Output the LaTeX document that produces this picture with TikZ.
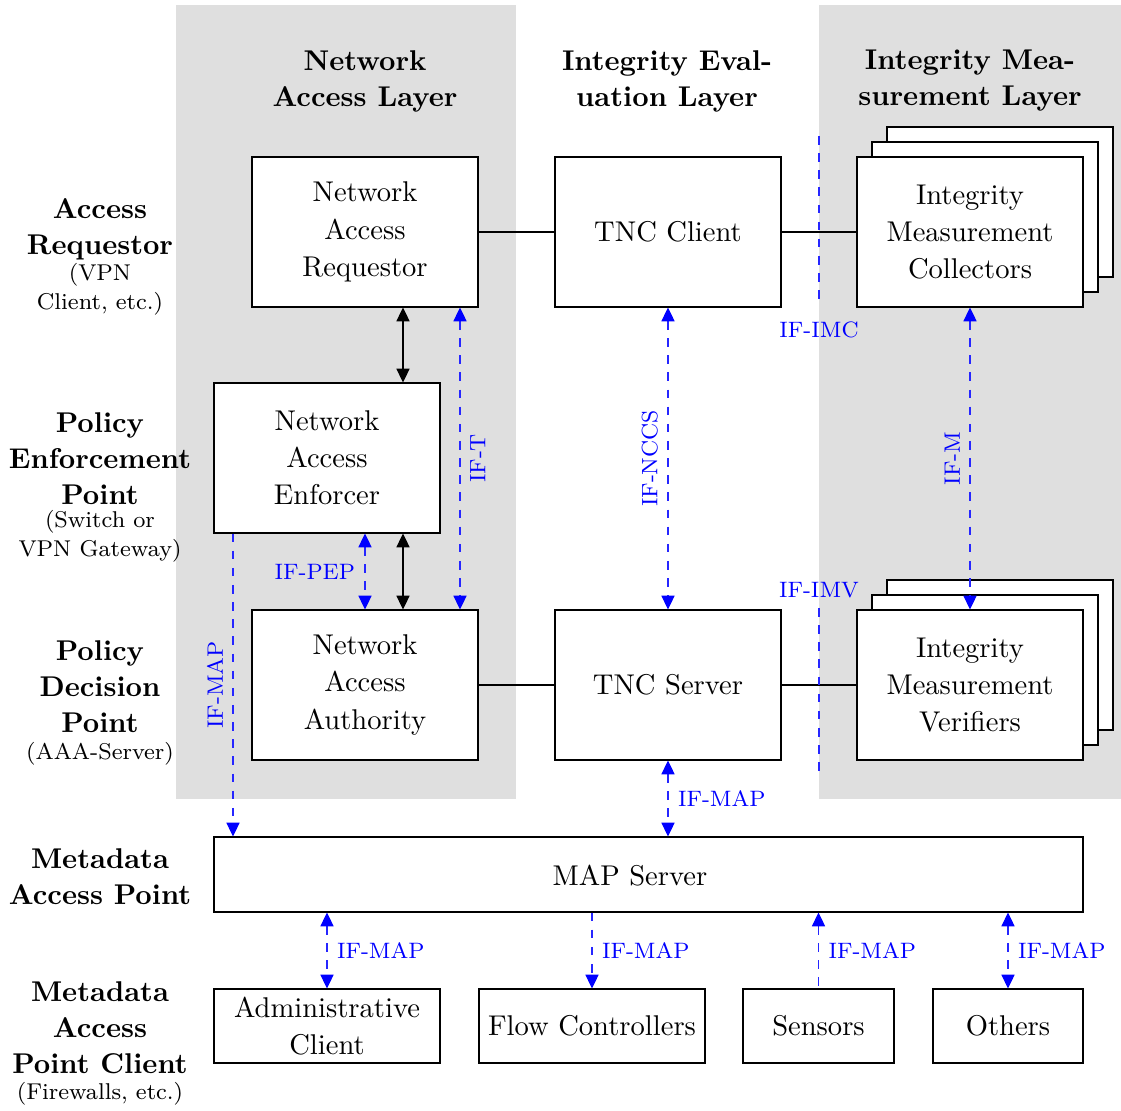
\documentclass[tikz,border=0pt]{standalone}
\usetikzlibrary{arrows.meta,calc}
\begin{document}
\begin{tikzpicture}[x=0.35pt,y=-0.35pt,
  box/.style={draw, line width=0.4pt, fill=white, inner sep=0pt, align=center,
    font=\fontsize{10}{13}\selectfont},
  bigbox/.style={box, minimum width=79.1pt, minimum height=52.5pt},
  smallbox/.style={box, minimum height=25.9pt},
  head/.style={align=center, inner sep=0pt, font=\fontsize{10}{12.6}\selectfont\bfseries},
  note/.style={align=center, inner sep=0pt, font=\fontsize{8}{10.15}\selectfont},
  lbl/.style={text=blue, font=\fontsize{7.8}{9.5}\selectfont},
  tipk/.tip={Triangle[length=4.8pt,width=4.6pt]},
  tipb/.tip={Triangle[length=4.8pt,width=4.6pt,color=blue]},
  duplex/.style={line width=0.4pt, {tipk}-{tipk}},
  bduplex/.style={{tipb}-{tipb}},
  ifline/.style={draw=blue!85, line width=0.4pt, dashed},
  link/.style={line width=0.4pt},
]
\useasboundingbox (0,0) rectangle (1121,1111);

% layer backgrounds
\fill[gray!25] (176,5) rectangle (516,799);
\fill[gray!25] (819,5) rectangle (1121,799);

% column headers
\node[head] (hnal) at (365,81) {Network\\Access Layer};
\node[head] (hiel) at (667,81) {Integrity Eval-\\uation Layer};
\node[head] (himl) at (970,81) {Integrity Mea-\\surement Layer};

% row headers
\node[head] (rar) at (100,229) {Access\\Requestor};
\node[note] (rarn) at (100,289) {(VPN\\Client, etc.)};
\node[head] (rpep) at (100,459) {Policy\\Enforcement\\Point};
\node[note] (rpepn) at (100,536) {(Switch or\\VPN Gateway)};
\node[head] (rpdp) at (100,687) {Policy\\Decision\\Point};
\node[note] (rpdpn) at (100,754) {(AAA-Server)};
\node[head] (rmap) at (100,877) {Metadata\\Access Point};
\node[head] (rmapc) at (100,1028) {Metadata\\Access\\Point Client};
\node[note] (rmapcn) at (100,1094) {(Firewalls, etc.)};

% components
\node[bigbox] (nar) at (365,232) {Network\\Access\\Requestor};
\node[bigbox] (tncc) at (668,232) {TNC Client};
\node[bigbox] (imc3) at (1000,202) {};
\node[bigbox] (imc2) at (985,217) {};
\node[bigbox] (imc) at (970,232) {Integrity\\Measurement\\Collectors};
\node[bigbox] (nae) at (327,458) {Network\\Access\\Enforcer};
\node[bigbox] (naa) at (365,685) {Network\\Access\\Authority};
\node[bigbox] (tncs) at (668,685) {TNC Server};
\node[bigbox] (imv3) at (1000,655) {};
\node[bigbox] (imv2) at (985,670) {};
\node[bigbox] (imv) at (970,685) {Integrity\\Measurement\\Verifiers};

\node[box, minimum width=304.15pt, minimum height=26.25pt] (map) at (648.5,874.5) {};
\node[box, draw=none, fill=none] (maptext) at (630,876) {MAP Server};

\node[smallbox, minimum width=79.1pt] (adm) at (327,1026) {Administrative\\Client};
\node[smallbox, minimum width=79.1pt] (flow) at (592,1026) {Flow Controllers};
\node[smallbox, minimum width=52.85pt] (sens) at (818.5,1026) {Sensors};
\node[smallbox, minimum width=52.5pt] (oth) at (1008,1026) {Others};

% helper columns
\coordinate (cblk) at (403,0);
\coordinate (cift) at (460,0);
\coordinate (cmapl) at (233,0);

% plain links
\draw[link] (nar) -- (tncc);
\draw[link] (tncc) -- (imc);
\draw[link] (naa) -- (tncs);
\draw[link] (tncs) -- (imv);

\draw[duplex] (nar.south -| cblk) -- (nae.north -| cblk);
\draw[duplex] (nae.south -| cblk) -- (naa.north -| cblk);

% interfaces
\draw[ifline, bduplex] (nar.south -| cift) -- (naa.north -| cift)
  node[midway, lbl, rotate=90, below] {IF-T};
\draw[ifline, bduplex] (nae.south -| naa.north) -- (naa.north)
  node[midway, lbl, left] {IF-PEP};
\draw[ifline, -{tipb}] (nae.south -| cmapl) -- (map.north -| cmapl)
  node[midway, lbl, rotate=90, above] {IF-MAP};
\draw[ifline, bduplex] (tncc) -- (tncs)
  node[midway, lbl, rotate=90, above] {IF-NCCS};
\draw[ifline, bduplex] (imc) -- (imv)
  node[midway, lbl, rotate=90, above] {IF-M};
\draw[ifline, bduplex] (tncs) -- (map.north -| tncs)
  node[midway, lbl, right] {IF-MAP};

\coordinate (imcA) at (819,136);
\coordinate (imcB) at (819,306);
\coordinate (imvA) at (819,608);
\coordinate (imvB) at (819,777);
\draw[ifline] (imcA) -- (imcB) node[below, lbl, yshift=-2pt] {IF-IMC};
\draw[ifline] (imvA) node[above, lbl] {IF-IMV} -- (imvB);

\draw[ifline, bduplex] (map.south -| adm) -- (adm)
  node[midway, lbl, right] {IF-MAP};
\draw[ifline, -{tipb}] (map.south -| flow) -- (flow)
  node[midway, lbl, right] {IF-MAP};
\draw[ifline, {tipb}-] (map.south -| sens) -- (sens)
  node[midway, lbl, right] {IF-MAP};
\draw[ifline, bduplex] (map.south -| oth) -- (oth)
  node[midway, lbl, right] {IF-MAP};
\end{tikzpicture}
\end{document}
